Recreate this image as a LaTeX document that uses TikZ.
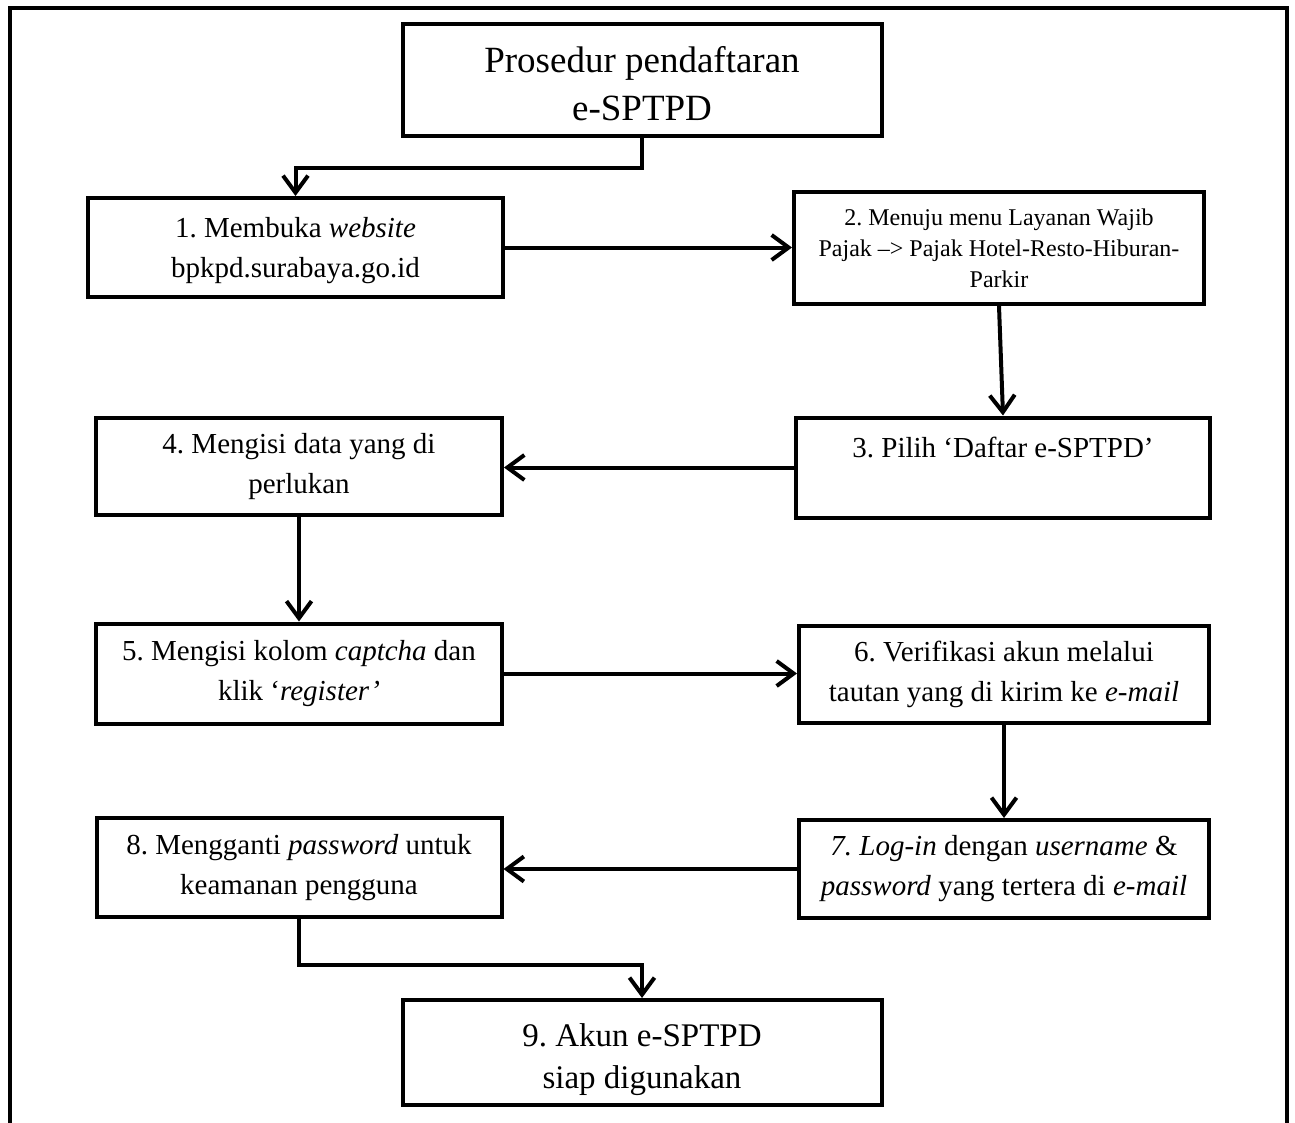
\documentclass[tikz,border=0pt]{standalone}
\usepackage{fontspec}
\setmainfont{Liberation Serif}
\usetikzlibrary{arrows.meta}
\frenchspacing
\begin{document}
\begin{tikzpicture}[x=1pt,y=-1pt,
  box/.style={draw, line width=4pt, rectangle, align=center, inner sep=0pt,
    font=\fontsize{29}{40}\selectfont},
  smallbox/.style={box, font=\fontsize{24}{31}\selectfont},
  titlebox/.style={box, font=\fontsize{37}{48}\selectfont},
  lastbox/.style={box, font=\fontsize{33}{42}\selectfont},
  conn/.style={line width=4pt, line join=miter,
    -{Straight Barb[length=17pt,width=25pt,line width=4pt]}},
  frame/.style={line width=4pt, line join=miter}
]
\fill[white] (0,0) rectangle (1295,1122);
\useasboundingbox (0,0) rectangle (1295,1122);
\draw[frame] (10,1124) -- (10,8) -- (1287,8) -- (1287,1124);

\node[titlebox, minimum width=479pt, minimum height=112pt] (t) at (642,80)
  {\rule{0pt}{34pt}Prosedur pendaftaran\\e-SPTPD};
\node[box, minimum width=415pt, minimum height=99pt] (b1) at (295.5,247.5)
  {\rule{0pt}{26pt}1. Membuka \textit{website}\\bpkpd.surabaya.go.id};
\node[smallbox, minimum width=410pt, minimum height=112pt] (b2) at (999,248)
  {2. Menuju menu Layanan Wajib\\Pajak –> Pajak Hotel-Resto-Hiburan-\\Parkir};
\node[box, minimum width=414pt, minimum height=100pt] (b3) at (1003,467.5)
  {3. Pilih ‘Daftar e-SPTPD’\\~};
\node[box, minimum width=406pt, minimum height=97pt] (b4) at (299,466.5)
  {4. Mengisi data yang di\\perlukan};
\node[box, minimum width=406pt, minimum height=100pt] (b5) at (299,673.5)
  {5. Mengisi kolom \textit{captcha} dan\\klik ‘\textit{register’}};
\node[box, minimum width=410pt, minimum height=97pt] (b6) at (1004,674)
  {6. Verifikasi akun melalui\\tautan yang di kirim ke \textit{e-mail}};
\node[box, minimum width=410pt, minimum height=98pt] (b7) at (1004,869)
  {\textit{7. Log-in} dengan \textit{username} \&\\\textit{password} yang tertera di \textit{e-mail}};
\node[box, minimum width=405pt, minimum height=99pt] (b8) at (299,867.5)
  {8. Mengganti \textit{password} untuk\\keamanan pengguna};
\node[lastbox, minimum width=479pt, minimum height=105pt] (b9) at (642,1052.5)
  {\rule{0pt}{37pt}9. Akun e-SPTPD\\siap digunakan};

\draw[conn] (t.south) -- ++(0,30) -| (b1.north);
\draw[conn] (b1.east) -- (b1.east -| b2.west);
\draw[conn] (b2.south) -- (b3.north);
\draw[conn] (b3.west) -- (b3.west -| b4.east);
\draw[conn] (b4.south) -- (b5.north);
\draw[conn] (b5.east) -- (b5.east -| b6.west);
\draw[conn] (b6.south) -- (b7.north);
\draw[conn] (b7.west) -- (b7.west -| b8.east);
\draw[conn] (b8.south) -- ++(0,46) -| (b9.north);
\end{tikzpicture}
\end{document}
